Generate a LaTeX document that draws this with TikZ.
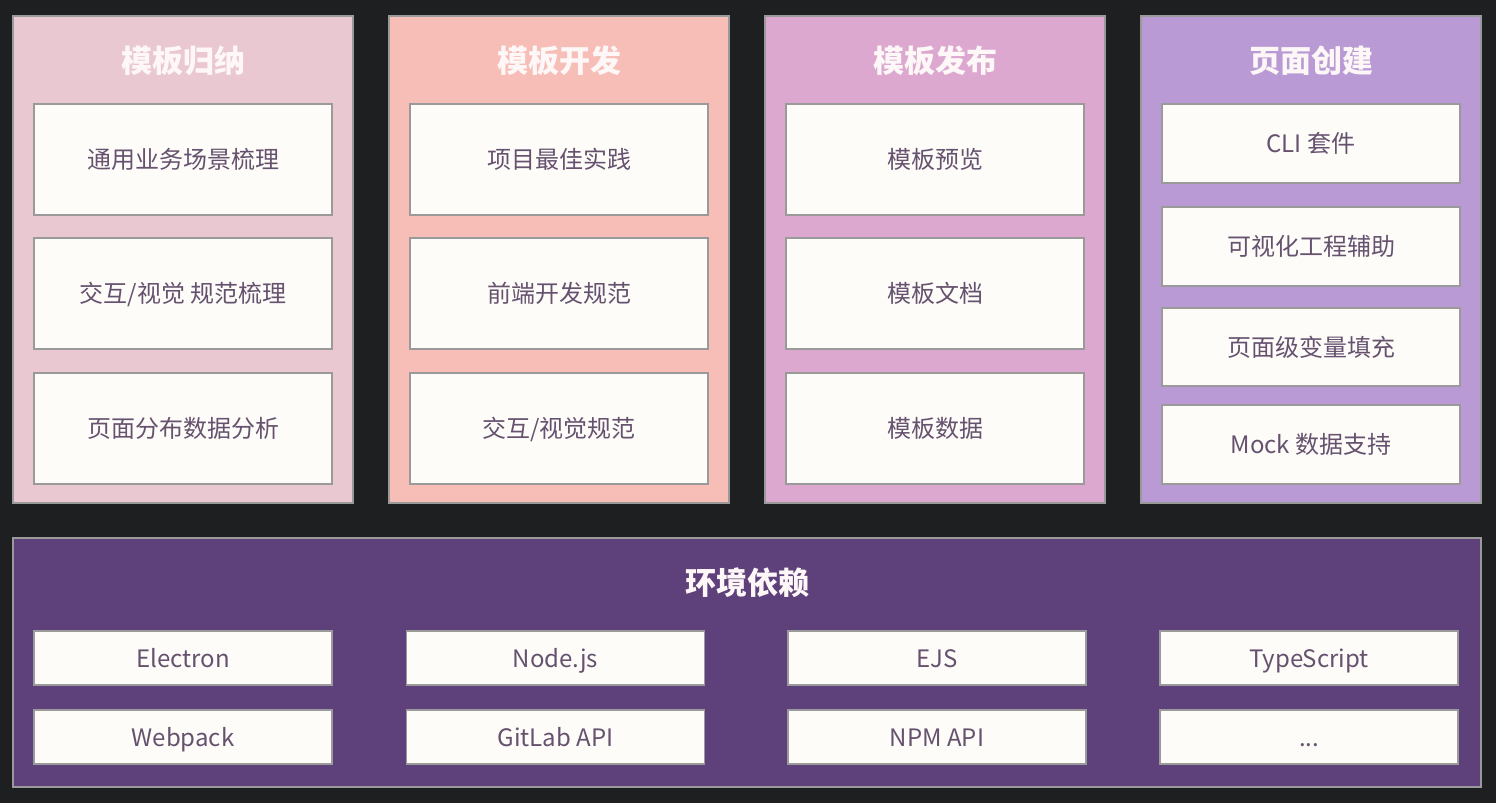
\documentclass[tikz,border=0pt]{standalone}
\usepackage{fontspec}
\setmainfont{Noto Sans CJK SC}
\definecolor{bg}{HTML}{1E1F21}
\definecolor{cA}{HTML}{EAC8D2}
\definecolor{cB}{HTML}{F7BEB8}
\definecolor{cC}{HTML}{DDA8D0}
\definecolor{cD}{HTML}{BA9AD4}
\definecolor{cE}{HTML}{5E407B}
\definecolor{boxfill}{HTML}{FDFCF8}
\definecolor{boxline}{HTML}{9A9A9A}
\definecolor{txt}{HTML}{66526F}
\definecolor{ttl}{HTML}{FDF7F7}
\tikzset{
  item/.style={draw=boxline, line width=1.5pt, fill=boxfill, text=txt, inner sep=0pt,
    text height=20pt, text depth=2pt,
    font=\fontsize{24}{27}\selectfont},
  ttlnode/.style={text=ttl, font=\fontsize{31}{34}\selectfont\bfseries}
}
\begin{document}
\begin{tikzpicture}[x=1pt,y=-1pt]
\fill[bg] (0,0) rectangle (1496,803);
\useasboundingbox (0,0) rectangle (1496,803);
% panels
\foreach \x/\c in {13/cA, 389/cB, 765/cC, 1141/cD}{
  \draw[draw=boxline, line width=1.5pt, fill=\c] (\x,16) rectangle ++(340,487);
}
\draw[draw=boxline, line width=1.5pt, fill=cE] (13,538) rectangle (1481,787);
% titles
\node[ttlnode] (ta) at (183.5,61) {模板归纳};
\node[ttlnode] (tb) at (559.5,61) {模板开发};
\node[ttlnode] (tc) at (935,61) {模板发布};
\node[ttlnode] (td) at (1311,61) {页面创建};
\node[ttlnode] (te) at (747,583) {环境依赖};
% items
\newcommand{\itm}[6]{\node[item, minimum width=#3pt, minimum height=#4pt] (#1) at (#5,#6) {#2};}
\itm{a1}{通用业务场景梳理}{298}{111}{183}{159.5}
\itm{a2}{交互/视觉 规范梳理}{298}{111}{183}{293.5}
\itm{a3}{页面分布数据分析}{298}{111}{183}{428.5}
\itm{b1}{项目最佳实践}{298}{111}{559}{159.5}
\itm{b2}{前端开发规范}{298}{111}{559}{293.5}
\itm{b3}{交互/视觉规范}{298}{111}{559}{428.5}
\itm{c1}{模板预览}{298}{111}{935}{159.5}
\itm{c2}{模板文档}{298}{111}{935}{293.5}
\itm{c3}{模板数据}{298}{111}{935}{428.5}
\itm{d1}{CLI 套件}{298}{79}{1311}{143.5}
\itm{d2}{可视化工程辅助}{298}{79}{1311}{246.5}
\itm{d3}{页面级变量填充}{298}{78}{1311}{347}
\itm{d4}{Mock 数据支持}{298}{79}{1311}{444.5}
\itm{e1}{Electron}{298}{54}{183}{658}
\itm{e2}{Node.js}{298}{54}{555.5}{658}
\itm{e3}{EJS}{298}{54}{937}{658}
\itm{e4}{TypeScript}{298}{54}{1309}{658}
\itm{e5}{Webpack}{298}{54}{183}{737}
\itm{e6}{GitLab API}{298}{54}{555.5}{737}
\itm{e7}{NPM API}{298}{54}{937}{737}
\itm{e8}{...}{298}{54}{1309}{737}
\end{tikzpicture}
\end{document}
